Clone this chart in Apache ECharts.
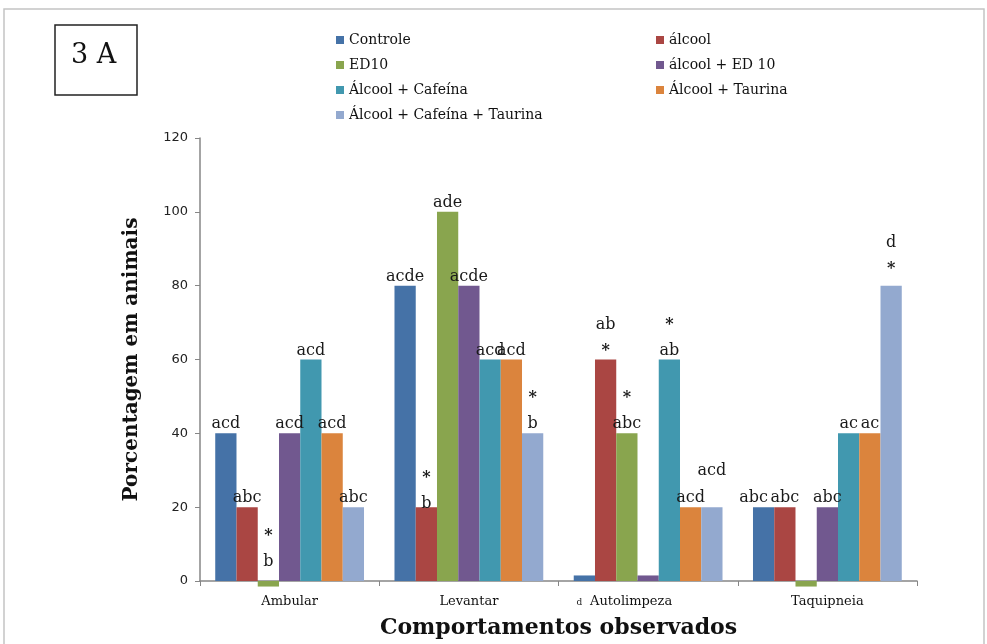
<!DOCTYPE html>
<html>
<head>
<meta charset="utf-8">
<script src="https://cdn.jsdelivr.net/npm/echarts@6/dist/echarts.min.js"></script>
<style>
  html, body { margin: 0; padding: 0; background: #fff; }
  #chart { width: 987px; height: 644px; }
</style>
</head>
<body>
<div id="chart"></div>
<script>
// categories and groups
var behaviours = ['Ambular', 'Levantar', 'Autolimpeza', 'Taquipneia'];
var groupNames = ['Controle', 'álcool', 'ED10', 'álcool + ED 10', 'Álcool + Cafeína', 'Álcool + Taurina', 'Álcool + Cafeína + Taurina'];

// % of animals per behaviour (tiny +/- values are the stubs drawn for zero)
var controle = [40, 80, 1.5, 20];
var alcool = [20, 20, 60, 20];
var ed10 = [-1.5, 100, 40, -1.5];
var alcoolEd10 = [40, 80, 1.5, 20];
var alcoolCafeina = [60, 60, 60, 40];
var alcoolTaurina = [40, 60, 20, 40];
var alcoolCafeinaTaurina = [20, 40, 20, 80];

// significance letters over each bar ('*' = differs from control)
var lettersControle = ['acd', 'acde', 'd', 'abc'];
var lettersAlcool = ['abc', '*\nb', 'ab\n*', 'abc'];
var lettersEd10 = ['*\nb', 'ade', '*\nabc', ''];
var lettersAlcoolEd10 = ['acd', 'acde', '', 'abc'];
var lettersAlcoolCafeina = ['acd', 'acd', '*\nab', 'ac'];
var lettersAlcoolTaurina = ['acd', 'acd', 'acd', 'ac'];
var lettersAlcoolCafeinaTaurina = ['abc', '*\nb', 'acd', 'd\n*'];

var seriesValues = [controle, alcool, ed10, alcoolEd10, alcoolCafeina, alcoolTaurina, alcoolCafeinaTaurina];
var seriesLetters = [lettersControle, lettersAlcool, lettersEd10, lettersAlcoolEd10, lettersAlcoolCafeina, lettersAlcoolTaurina, lettersAlcoolCafeinaTaurina];
var colors = ['#4572A7', '#AA4643', '#89A54E', '#71588F', '#4198AF', '#DB843D', '#93A9CF'];

// a few labels were moved by hand in the original
var labelTweaks = {
  '2-0': { dy: -10 },
  '1-1': { dy: 6 },
  '0-2': { position: 'bottom', distance: 16, small: true, dx: -5 },
  '6-2': { dy: -27 },
  '0-3': { dx: -10 },
  '6-3': { dy: -8 }
};

var serif = 'DejaVu Serif';

var chart = echarts.init(document.getElementById('chart'));

var richLabel = function (s, d) {
  var text = seriesLetters[s][d];
  if (!text) return '';
  var t = labelTweaks[s + '-' + d];
  if (t && t.small) return '{small|' + text + '}';
  return text.split('\n').map(function (line) {
    return line === '*' ? '{star|*}' : '{t|' + line + '}';
  }).join('\n');
};

var series = seriesValues.map(function (vals, s) {
  return {
    type: 'bar',
    name: groupNames[s],
    clip: false,
    barGap: '0%',
    barCategoryGap: '17%',
    itemStyle: { color: colors[s] },
    label: {
      show: true,
      position: 'top',
      distance: -4,
      formatter: function (p) { return richLabel(p.seriesIndex, p.dataIndex); },
      rich: {
        t: { fontFamily: serif, fontSize: 16, color: '#1a1a1a', lineHeight: 26 },
        star: { fontFamily: serif, fontSize: 16, fontWeight: 'bold', color: '#1a1a1a', lineHeight: 26 },
        small: { fontFamily: serif, fontSize: 9, color: '#1a1a1a', lineHeight: 12 }
      }
    },
    emphasis: { disabled: true },
    data: vals.map(function (v, d) {
      var item = { value: v };
      var t = labelTweaks[s + '-' + d];
      if (t) {
        item.label = {};
        if (t.position) { item.label.position = t.position; item.label.distance = t.distance; }
        if (t.dx || t.dy) item.label.offset = [t.dx || 0, t.dy || 0];
      }
      return item;
    })
  };
});

var legendText = { fontFamily: serif, fontSize: 14, color: '#111' };

chart.setOption({
  animation: false,
  color: colors,
  graphic: [
    { type: 'rect', shape: { x: 4, y: 9, width: 980, height: 660 }, style: { fill: 'none', stroke: '#c4c4c4', lineWidth: 1.5 } },
    { type: 'rect', shape: { x: 55, y: 25, width: 82, height: 70 }, style: { fill: '#fff', stroke: '#222', lineWidth: 1.5 } },
    { type: 'text', left: 71, top: 42, style: { text: '3 A', fontFamily: serif, fontSize: 27, fill: '#111' } }
  ],
  legend: [{
    orient: 'vertical',
    left: 331,
    top: 28,
    itemGap: 11,
    itemWidth: 8,
    itemHeight: 8,
    icon: 'rect',
    textStyle: legendText,
    data: [groupNames[0], groupNames[2], groupNames[4], groupNames[6]]
  }, {
    orient: 'vertical',
    left: 651,
    top: 28,
    itemGap: 11,
    itemWidth: 8,
    itemHeight: 8,
    icon: 'rect',
    textStyle: legendText,
    data: [groupNames[1], groupNames[3], groupNames[5]]
  }],
  grid: { left: 200, right: 70, top: 138, bottom: 60, containLabel: false },
  xAxis: {
    type: 'category',
    data: behaviours,
    name: 'Comportamentos observados',
    nameLocation: 'middle',
    nameGap: 36,
    nameTextStyle: { fontFamily: serif, fontSize: 22, fontWeight: 'bold', color: '#111' },
    axisLine: { lineStyle: { color: '#868686', width: 1.5 } },
    axisTick: { show: true, length: 5, lineStyle: { color: '#868686' } },
    axisLabel: {
      fontFamily: serif, fontSize: 13, color: '#111', margin: 14,
      formatter: function (v) { return v === 'Autolimpeza' ? '{shift|' + v + '}' : v; },
      rich: { shift: { fontFamily: serif, fontSize: 13, color: '#111', padding: [0, 34, 0, 0] } }
    },
    splitLine: { show: false }
  },
  yAxis: {
    type: 'value',
    min: 0,
    max: 120,
    interval: 20,
    name: 'Porcentagem em animais',
    nameLocation: 'middle',
    nameGap: 58,
    nameTextStyle: { fontFamily: serif, fontSize: 20, fontWeight: 'bold', color: '#111' },
    axisLine: { show: true, lineStyle: { color: '#868686', width: 1.5 } },
    axisTick: { show: true, inside: false, length: 5, lineStyle: { color: '#868686' } },
    axisLabel: { fontFamily: 'DejaVu Sans', fontSize: 13, color: '#222', margin: 12 },
    splitLine: { show: false }
  },
  series: series
});
</script>
</body>
</html>
